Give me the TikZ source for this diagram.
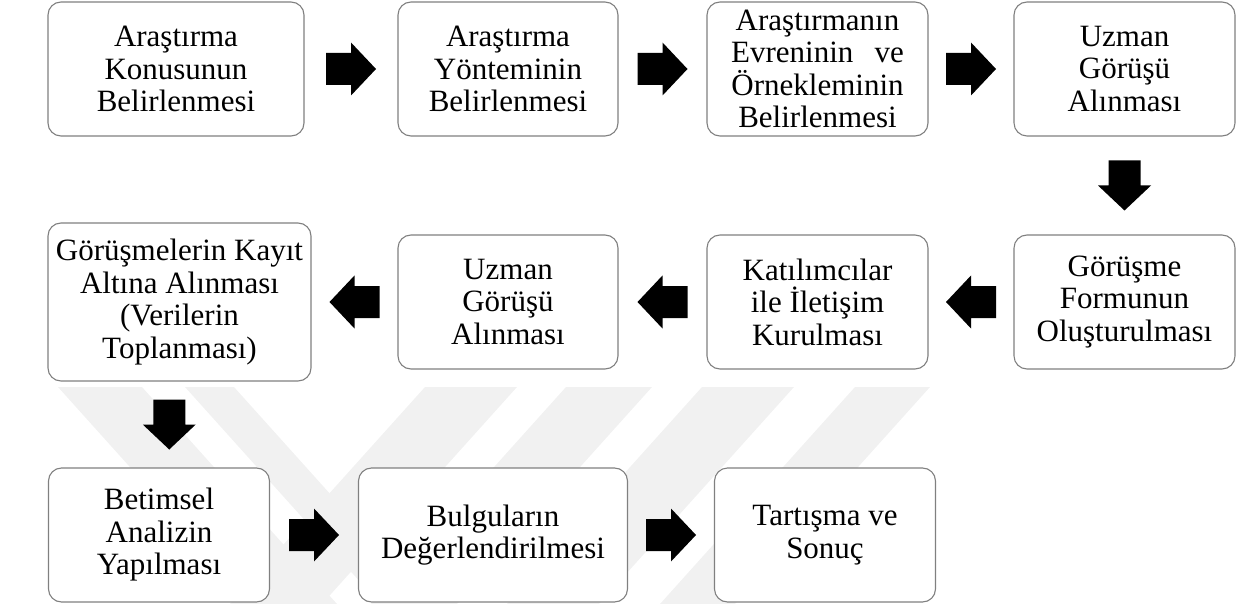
\documentclass[tikz,border=0pt]{standalone}
\usepackage{fontspec}
\setmainfont{Liberation Serif}
\usetikzlibrary{calc}
\definecolor{boxgray}{RGB}{128,128,128}
\definecolor{wmgray}{RGB}{241,241,241}
\tikzset{
  stepbox/.style={draw=boxgray, line width=1.1pt, rounded corners=13pt, fill=white,
    align=center, inner sep=0pt, minimum height=134pt,
    font=\fontsize{31}{32.5}\selectfont},
  barrow/.pic={\fill[black] (-25,-16) -- (0,-16) -- (0,-26.5) -- (25,0) -- (0,26.5) -- (0,16) -- (-25,16) -- cycle;},
  wmband/.style={fill=wmgray, draw=none}
}
\begin{document}
\begin{tikzpicture}[x=1pt,y=-1pt]
\useasboundingbox (0,0) rectangle (1248,604);
% watermark
\path[wmband] (58,387) -- (142,387) -- (337,604) -- (253,604) -- cycle;
\path[wmband] (185,387) -- (234,387) -- (429,604) -- (380,604) -- cycle;
\path[wmband] (425,387) -- (517,387) -- (322,604) -- (230,604) -- cycle;
\path[wmband] (566,387) -- (652,387) -- (457,604) -- (371,604) -- cycle;
\path[wmband] (702,387) -- (794,387) -- (599,604) -- (507,604) -- cycle;
\path[wmband] (855,387) -- (930,387) -- (735,604) -- (660,604) -- cycle;
% row 1
\node[stepbox, minimum width=256pt] (b1) at (176,69) {Araştırma\\Konusunun\\Belirlenmesi};
\node[stepbox, minimum width=220pt] (b2) at (508,69) {Araştırma\\Yönteminin\\Belirlenmesi};
\node[stepbox, minimum width=221pt] (b3) at (817.5,69) {Araştırmanın\\Evreninin\hspace{0.68em}ve\\Örnekleminin\\Belirlenmesi};
\node[stepbox, minimum width=221pt] (b4) at (1124.5,69) {Uzman\\Görüşü\\Alınması};
% row 2
\node[stepbox, minimum width=263pt, minimum height=158pt] (c1) at (179.5,302) {Görüşmelerin Kayıt\\Altına Alınması\\(Verilerin\\Toplanması)};
\node[stepbox, minimum width=220pt] (c2) at (508,302) {Uzman\\Görüşü\\Alınması};
\node[stepbox, minimum width=221pt] (c3) at (817.5,302) {Katılımcılar\\ile İletişim\\Kurulması};
\node[stepbox, minimum width=221pt] (c4) at (1124.5,302) {Görüşme\\Formunun\\Oluşturulması};
% row 3
\node[stepbox, minimum width=221pt] (e1) at (159,535) {Betimsel\\Analizin\\Yapılması};
\node[stepbox, minimum width=269pt] (e2) at (493,535) {Bulguların\\Değerlendirilmesi};
\node[stepbox, minimum width=221pt] (e3) at (825,535) {Tartışma ve\\Sonuç};
% arrows
\pic at ($(b1.east)!0.5!(b2.west)$) {barrow};
\pic at ($(b2.east)!0.5!(b3.west)$) {barrow};
\pic at ($(b3.east)!0.5!(b4.west)$) {barrow};
\pic[rotate=-90] at ($(b4.south)!0.5!(c4.north)$) {barrow};
\pic[rotate=180] at ($(c4.west)!0.5!(c3.east)$) {barrow};
\pic[rotate=180] at ($(c3.west)!0.5!(c2.east)$) {barrow};
\pic[rotate=180] at ($(c2.west)!0.5!(c1.east)$) {barrow};
\pic[rotate=-90] at ($(c1.south)!0.5!(e1.north)$) {barrow};
\pic at ($(e1.east)!0.5!(e2.west)$) {barrow};
\pic at ($(e2.east)!0.5!(e3.west)$) {barrow};
\end{tikzpicture}
\end{document}
